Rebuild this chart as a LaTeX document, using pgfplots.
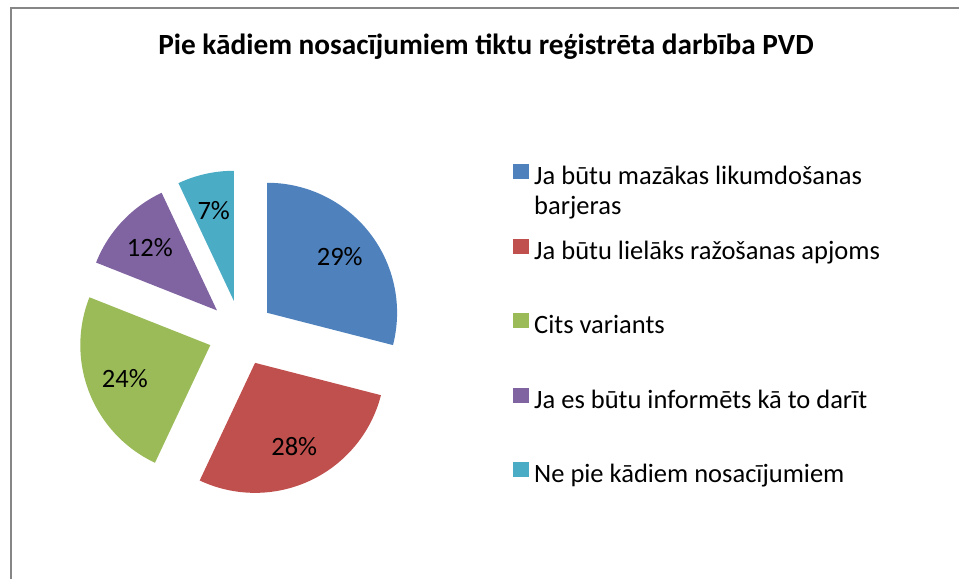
\documentclass[border=0pt]{standalone}
\usepackage{pgfplots}
\usepackage{pgfplotstable}
\pgfplotsset{compat=1.18}
\usepackage{fontspec}
\setmainfont{Carlito}

\definecolor{cA}{HTML}{4F81BD}
\definecolor{cB}{HTML}{C0504D}
\definecolor{cC}{HTML}{9BBB59}
\definecolor{cD}{HTML}{8064A2}
\definecolor{cE}{HTML}{4BACC6}
\definecolor{frame}{HTML}{868686}

\pgfplotstableread{
key value
A 29
B 28
C 24
D 12
E 7
}\piedata

% pie geometry (pixel units, y up)
\def\pcx{241}\def\pcy{246}\def\prr{130}\def\pdd{33}\def\plr{92}
\xdef\pcur{90}
\newcommand\defslice[2]{%
 \pgfplotstablegetelem{#1}{value}\of\piedata
 \xdef\ptmpval{\pgfplotsretval}%
 \pgfmathsetmacro\pS{\pcur}%
 \pgfmathsetmacro\pE{\pcur-3.6*\ptmpval}%
 \pgfmathsetmacro\pM{(\pS+\pE)/2}%
 \pgfmathsetmacro\pAX{\pcx+\pdd*cos(\pM)}%
 \pgfmathsetmacro\pAY{\pcy+\pdd*sin(\pM)}%
 \pgfmathsetmacro\pLX{\pAX+\plr*cos(\pM)}%
 \pgfmathsetmacro\pLY{\pAY+\plr*sin(\pM)}%
 \expandafter\xdef\csname val#2\endcsname{\ptmpval}%
 \expandafter\xdef\csname st#2\endcsname{\pS}%
 \expandafter\xdef\csname en#2\endcsname{\pE}%
 \expandafter\xdef\csname ax#2\endcsname{\pAX}%
 \expandafter\xdef\csname ay#2\endcsname{\pAY}%
 \expandafter\xdef\csname lx#2\endcsname{\pLX}%
 \expandafter\xdef\csname ly#2\endcsname{\pLY}%
 \xdef\pcur{\pE}%
}
\defslice{0}{A}\defslice{1}{B}\defslice{2}{C}\defslice{3}{D}\defslice{4}{E}

\begin{document}
\begin{tikzpicture}
\begin{axis}[
  at={(0,0)}, anchor=south west, scale only axis,
  width=959bp, height=579bp,
  xmin=0, xmax=959, ymin=0, ymax=579,
  hide axis, clip=false,
  legend image code/.code={\fill[#1] (0bp,-0.5bp) rectangle (16bp,14.5bp);},
  legend cell align=left,
  legend style={draw=none, fill=none, at={(axis cs:513,415)}, anchor=north west,
    font=\fontsize{26.5bp}{30bp}\selectfont, inner sep=0pt, row sep=48bp, column sep=5bp,
    nodes={inner sep=0pt, text height=18bp, text depth=6bp}},
]
\addplot[fill=cA, draw=none, domain=\enA:\stA, samples=90] ({\axA+\prr*cos(x)},{\ayA+\prr*sin(x)}) -- (axis cs:\axA,\ayA) -- cycle;
\addlegendentry{\begin{tabular}[t]{@{}l@{}}Ja būtu mazākas likumdošanas\\barjeras\end{tabular}}
\addplot[fill=cB, draw=none, domain=\enB:\stB, samples=90] ({\axB+\prr*cos(x)},{\ayB+\prr*sin(x)}) -- (axis cs:\axB,\ayB) -- cycle;
\addlegendentry{Ja būtu lielāks ražošanas apjoms}
\addplot[fill=cC, draw=none, domain=\enC:\stC, samples=90] ({\axC+\prr*cos(x)},{\ayC+\prr*sin(x)}) -- (axis cs:\axC,\ayC) -- cycle;
\addlegendentry{Cits variants}
\addplot[fill=cD, draw=none, domain=\enD:\stD, samples=60] ({\axD+\prr*cos(x)},{\ayD+\prr*sin(x)}) -- (axis cs:\axD,\ayD) -- cycle;
\addlegendentry{Ja es būtu informēts kā to darīt}
\addplot[fill=cE, draw=none, domain=\enE:\stE, samples=40] ({\axE+\prr*cos(x)},{\ayE+\prr*sin(x)}) -- (axis cs:\axE,\ayE) -- cycle;
\addlegendentry{Ne pie kādiem nosacījumiem}

\node[font=\fontsize{26.5bp}{30bp}\selectfont] at (axis cs:\lxA,\lyA) {\valA\%};
\node[font=\fontsize{26.5bp}{30bp}\selectfont] at (axis cs:\lxB,\lyB) {\valB\%};
\node[font=\fontsize{26.5bp}{30bp}\selectfont] at (axis cs:\lxC,\lyC) {\valC\%};
\node[font=\fontsize{26.5bp}{30bp}\selectfont] at (axis cs:\lxD,\lyD) {\valD\%};
\node[font=\fontsize{26.5bp}{30bp}\selectfont] at (axis cs:\lxE,\lyE) {\valE\%};
\node[font=\bfseries\fontsize{29.3bp}{33bp}\selectfont, anchor=base] at (axis cs:486,524) {Pie kādiem nosacījumiem tiktu reģistrēta darbība PVD};
\draw[line width=2bp, frame] (axis cs:11,0) -- (axis cs:11,571) -- (axis cs:959,571);
\end{axis}
\pgfresetboundingbox
\path[use as bounding box] (0,0) rectangle (959bp,579bp);
\end{tikzpicture}
\end{document}
